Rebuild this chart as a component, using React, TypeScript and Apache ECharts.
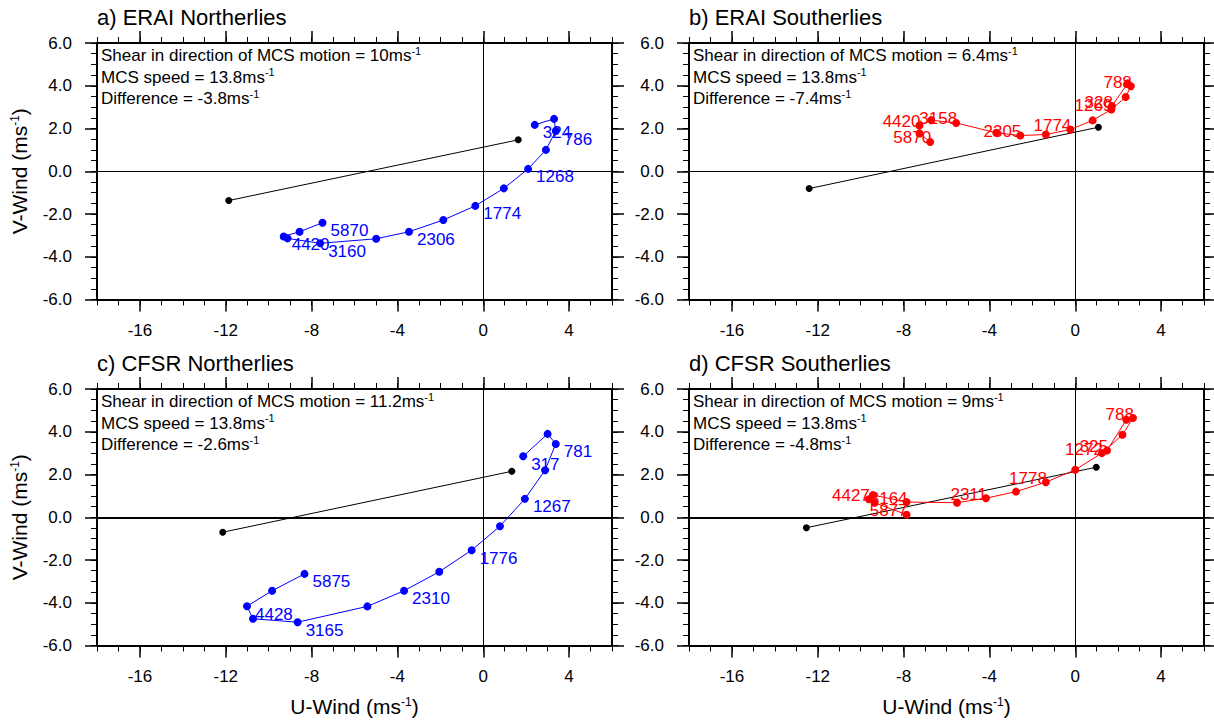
import React, { useEffect, useRef } from "react";
import * as echarts from "echarts";

const FONT = "Liberation Sans, Arial, Helvetica, sans-serif";

// Axis extents and tick labels
const X_MIN = -18;
const X_MAX = 6;
const Y_MIN = -6;
const Y_MAX = 6;
const xTickLabels = [-16, -12, -8, -4, 0, 4];
const yTickLabels = [-6, -4, -2, 0, 2, 4, 6];

// Panel texts
const panelTitles = ["a) ERAI Northerlies", "b) ERAI Southerlies", "c) CFSR Northerlies", "d) CFSR Southerlies"];
const shearValues = ["10", "6.4", "11.2", "9"];
const mcsSpeeds = ["13.8", "13.8", "13.8", "13.8"];
const differences = ["-3.8", "-7.4", "-2.6", "-4.8"];

// a) ERAI Northerlies
const aU = [2.40, 3.30, 3.38, 2.92, 2.09, 0.96, -0.37, -1.86, -3.46, -4.99, -7.60, -9.12, -9.30, -8.56, -7.49];
const aV = [2.17, 2.45, 1.88, 1.00, 0.11, -0.80, -1.62, -2.28, -2.83, -3.16, -3.37, -3.14, -3.05, -2.83, -2.41];
const aLabels = ["324", "", "786", "", "1268", "", "1774", "", "2306", "", "3160", "", "4420", "", "5870"];
const aMotionU = [-11.86, 1.63];
const aMotionV = [-1.37, 1.47];

// b) ERAI Southerlies
const bU = [1.71, 2.44, 2.59, 2.35, 1.68, 0.81, -0.23, -1.37, -2.56, -3.68, -5.55, -6.71, -7.26, -7.26, -6.76];
const bV = [3.05, 4.11, 3.98, 3.47, 2.89, 2.38, 1.95, 1.72, 1.67, 1.80, 2.26, 2.39, 2.14, 1.77, 1.37];
const bLabels = ["328", "", "788", "", "1269", "", "1774", "", "2305", "", "3158", "", "4420", "", "5870"];
const bMotionU = [-12.40, 1.08];
const bMotionV = [-0.81, 2.06];

// c) CFSR Northerlies
const cU = [1.86, 3.00, 3.38, 2.88, 1.94, 0.78, -0.54, -2.05, -3.69, -5.40, -8.65, -10.73, -11.01, -9.84, -8.33];
const cV = [2.85, 3.90, 3.43, 2.20, 0.86, -0.42, -1.54, -2.55, -3.44, -4.17, -4.91, -4.75, -4.16, -3.44, -2.65];
const cLabels = ["317", "", "781", "", "1267", "", "1776", "", "2310", "", "3165", "", "4428", "", "5875"];
const cMotionU = [-12.14, 1.33];
const cMotionV = [-0.70, 2.15];

// d) CFSR Southerlies
const dU = [1.48, 2.38, 2.69, 2.20, 1.24, 0.00, -1.37, -2.76, -4.16, -5.51, -7.86, -9.43, -9.62, -9.35, -7.86];
const dV = [3.12, 4.56, 4.64, 3.86, 3.00, 2.22, 1.64, 1.20, 0.89, 0.68, 0.71, 1.04, 0.84, 0.68, 0.12];
const dLabels = ["325", "", "788", "", "1272", "", "1778", "", "2311", "", "3164", "", "4427", "", "5877"];
const dMotionU = [-12.53, 0.98];
const dMotionV = [-0.49, 2.34];

const panels = [
  { u: aU, v: aV, labels: aLabels, mu: aMotionU, mv: aMotionV, color: "#0000ff", side: "right" },
  { u: bU, v: bV, labels: bLabels, mu: bMotionU, mv: bMotionV, color: "#ff0000", side: "left" },
  { u: cU, v: cV, labels: cLabels, mu: cMotionU, mv: cMotionV, color: "#0000ff", side: "right" },
  { u: dU, v: dV, labels: dLabels, mu: dMotionU, mv: dMotionV, color: "#ff0000", side: "left" },
];

const gridPos = [
  { left: 97, top: 43 },
  { left: 689, top: 43 },
  { left: 97, top: 389 },
  { left: 689, top: 389 },
];
const GRID_W = 515;
const GRID_H = 256.5;
const SYMBOL = 8;

function range(a: number, b: number, step: number) {
  const out: number[] = [];
  for (let k = 0; a + k * step <= b + 1e-9; k++) out.push(+(a + k * step).toFixed(3));
  return out;
}
const xMinorTicks = range(X_MIN, X_MAX, 1);
const yMinorTicks = range(Y_MIN, Y_MAX, 0.5);

const nameRich = {
  a: { fontSize: 21, fontFamily: FONT, color: "#000" },
  s: { fontSize: 12, fontFamily: FONT, color: "#000", verticalAlign: "top", lineHeight: 12 },
};

function makeXAxes(g: number) {
  const bottomRow = g >= 2;
  const base = { type: "value", gridIndex: g, min: X_MIN, max: X_MAX, splitLine: { show: false } };
  return [
    {
      ...base,
      position: "bottom",
      axisLine: { show: true, onZero: false, lineStyle: { color: "#000", width: 2 } },
      axisTick: { show: true, length: 12, customValues: xTickLabels, lineStyle: { color: "#000", width: 1.5 } },
      axisLabel: {
        show: true, customValues: xTickLabels, margin: 22, fontSize: 17, color: "#000", fontFamily: FONT,
        formatter: (v: number) => String(v),
      },
      name: bottomRow ? "{a|U-Wind (ms}{s|-1}{a|)}" : "",
      nameLocation: "middle",
      nameGap: 50,
      nameTextStyle: { rich: nameRich },
    },
    {
      ...base,
      position: "bottom",
      axisLine: { show: false, onZero: false },
      axisTick: { show: true, length: 6, customValues: xMinorTicks, lineStyle: { color: "#000", width: 1 } },
      axisLabel: { show: false },
    },
    {
      ...base,
      position: "top",
      axisLine: { show: true, onZero: false, lineStyle: { color: "#000", width: 2 } },
      axisTick: { show: true, length: 12, customValues: xTickLabels, lineStyle: { color: "#000", width: 1.5 } },
      axisLabel: { show: false },
    },
    {
      ...base,
      position: "top",
      axisLine: { show: false, onZero: false },
      axisTick: { show: true, length: 6, customValues: xMinorTicks, lineStyle: { color: "#000", width: 1 } },
      axisLabel: { show: false },
    },
  ];
}

function makeYAxes(g: number) {
  const leftCol = g % 2 === 0;
  const base = { type: "value", gridIndex: g, min: Y_MIN, max: Y_MAX, splitLine: { show: false } };
  return [
    {
      ...base,
      position: "left",
      axisLine: { show: true, onZero: false, lineStyle: { color: "#000", width: 2 } },
      axisTick: { show: true, length: 12, customValues: yTickLabels, lineStyle: { color: "#000", width: 1.5 } },
      axisLabel: {
        show: true, customValues: yTickLabels, margin: 25, fontSize: 17, color: "#000", fontFamily: FONT,
        formatter: (v: number) => v.toFixed(1),
      },
      name: leftCol ? "{a|V-Wind (ms}{s|-1}{a|)}" : "",
      nameLocation: "middle",
      nameRotate: 90,
      nameGap: 67,
      nameTextStyle: { rich: nameRich },
    },
    {
      ...base,
      position: "left",
      axisLine: { show: false, onZero: false },
      axisTick: { show: true, length: 6, customValues: yMinorTicks, lineStyle: { color: "#000", width: 1 } },
      axisLabel: { show: false },
    },
    {
      ...base,
      position: "right",
      axisLine: { show: true, onZero: false, lineStyle: { color: "#000", width: 2 } },
      axisTick: { show: true, length: 12, customValues: yTickLabels, lineStyle: { color: "#000", width: 1.5 } },
      axisLabel: { show: false },
    },
    {
      ...base,
      position: "right",
      axisLine: { show: false, onZero: false },
      axisTick: { show: true, length: 6, customValues: yMinorTicks, lineStyle: { color: "#000", width: 1 } },
      axisLabel: { show: false },
    },
  ];
}

function buildOption() {
  const grid = gridPos.map((p) => ({ left: p.left, top: p.top, width: GRID_W, height: GRID_H, containLabel: false }));
  const xAxis: any[] = [];
  const yAxis: any[] = [];
  for (let g = 0; g < 4; g++) {
    xAxis.push(...makeXAxes(g));
    yAxis.push(...makeYAxes(g));
  }

  const title: any[] = [];
  const annRich = {
    t: { fontSize: 17, fontFamily: FONT, color: "#000", lineHeight: 21.5 },
    s: { fontSize: 11, fontFamily: FONT, color: "#000", verticalAlign: "top", lineHeight: 16 },
  };
  panelTitles.forEach((t, i) => {
    const p = gridPos[i];
    title.push({
      text: t,
      left: p.left,
      top: p.top - 37,
      padding: 0,
      textStyle: { fontSize: 22, fontWeight: "normal", color: "#000", fontFamily: FONT, lineHeight: 22 },
    });
    title.push({
      text:
        `{t|Shear in direction of MCS motion = ${shearValues[i]}ms}{s|-1}\n` +
        `{t|MCS speed = ${mcsSpeeds[i]}ms}{s|-1}\n` +
        `{t|Difference = ${differences[i]}ms}{s|-1}`,
      left: p.left + 4,
      top: p.top + 2,
      padding: 0,
      textStyle: { fontSize: 17, fontWeight: "normal", color: "#000", fontFamily: FONT, rich: annRich },
    });
  });

  const series: any[] = [];
  panels.forEach((pn, g) => {
    const idx = g * 4;
    const hWidth = g >= 2 ? 2 : 1;
    series.push({
      type: "line",
      xAxisIndex: idx,
      yAxisIndex: idx,
      data: pn.mu.map((u, i) => [u, pn.mv[i]]),
      symbol: "circle",
      symbolSize: 7,
      showSymbol: true,
      lineStyle: { color: "#000", width: 1 },
      itemStyle: { color: "#000" },
      z: 2,
      markLine: {
        silent: true,
        symbol: ["none", "none"],
        label: { show: false },
        lineStyle: { color: "#000", width: 1, type: "solid" },
        data: [
          { xAxis: 0, lineStyle: { color: "#000", width: 1, type: "solid" } },
          { yAxis: 0, lineStyle: { color: "#000", width: hWidth, type: "solid" } },
        ],
        z: 1,
      },
    });
    const isRight = pn.side === "right";
    const half = SYMBOL / 2;
    series.push({
      type: "line",
      xAxisIndex: idx,
      yAxisIndex: idx,
      data: pn.u.map((u, i) => [u, pn.v[i], pn.labels[i]]),
      symbol: "circle",
      symbolSize: SYMBOL,
      showSymbol: true,
      lineStyle: { color: pn.color, width: 1 },
      itemStyle: { color: pn.color },
      z: 3,
      label: {
        show: true,
        position: isRight ? [half + 8, half + 8] : [half + 1, half - 4],
        align: isRight ? "left" : "right",
        verticalAlign: "middle",
        formatter: (p: any) => p.data[2],
        fontSize: 17,
        fontFamily: FONT,
        color: pn.color,
      },
      labelLayout: { hideOverlap: false },
    });
  });

  return {
    animation: false,
    backgroundColor: "#ffffff",
    title,
    grid,
    xAxis,
    yAxis,
    series,
  };
}

export default function App() {
  const ref = useRef<HTMLDivElement>(null);
  useEffect(() => {
    if (!ref.current) return;
    const chart = echarts.init(ref.current, undefined, { renderer: "svg" });
    chart.setOption(buildOption() as any);
    return () => chart.dispose();
  }, []);
  return (
    <div
      ref={ref}
      style={{ position: "fixed", left: 0, top: 0, width: 1214, height: 725, background: "#fff" }}
    />
  );
}
